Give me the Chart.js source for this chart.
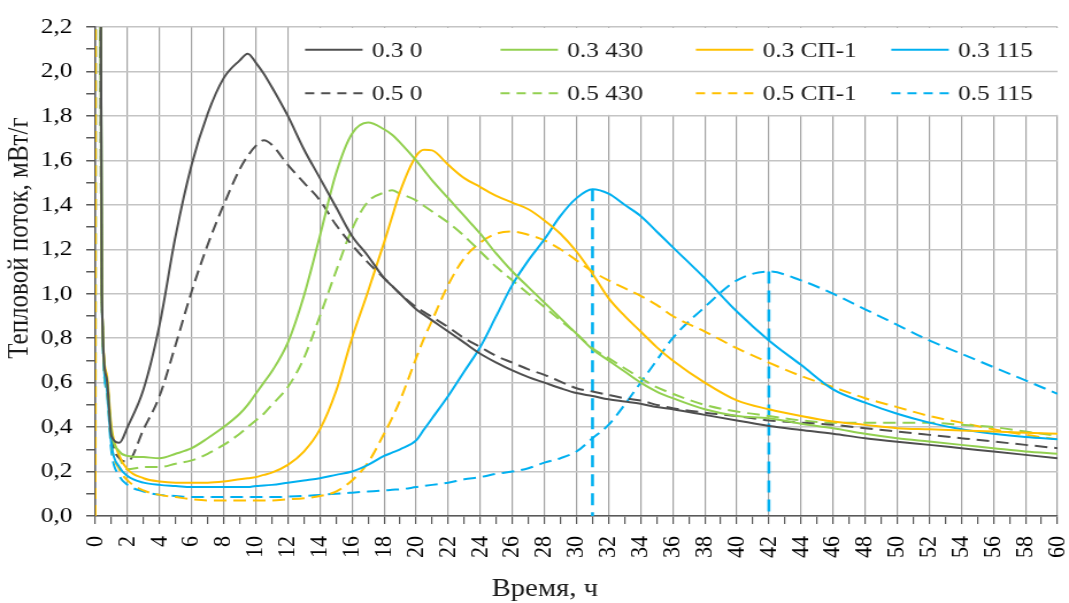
<!DOCTYPE html>
<html>
<head>
<meta charset="utf-8">
<script src="https://cdn.jsdelivr.net/npm/chart.js@4.4.1/dist/chart.umd.min.js"></script>
<style>
  html, body { margin: 0; padding: 0; background: #fff; overflow: hidden; }
</style>
</head>
<body>
<!-- the source picture is stretched sideways, so the canvas is drawn narrower and widened by css -->
<canvas id="heatFlow" width="930" height="603" style="display:block;width:1069px;height:603px"></canvas>
<script>
// time, h
const hours = [0, 0.1, 0.4, 0.7, 1, 1.5,
  2, 3, 4, 5, 6, 7, 8, 9, 9.5, 10, 10.5, 11, 12, 13, 14, 15, 16, 17, 18, 18.5, 19,
  20, 20.5, 21, 22, 23, 24, 25, 26, 27, 28, 29, 30, 31, 32, 33, 34, 35, 36,
  38, 40, 42, 44, 46, 48, 50, 52, 54, 56, 58, 60];

// heat flow, mW/g
const flow03_0 = [null, 8, 1.0, 0.62, 0.36, 0.33,
  0.40, 0.57, 0.86, 1.26, 1.58, 1.81, 1.97, 2.05, 2.08, 2.04, 1.99, 1.93, 1.80, 1.65, 1.52, 1.39, 1.26, 1.17, 1.07, 1.035, 1.00,
  0.93, 0.905, 0.88, 0.83, 0.78, 0.73, 0.69, 0.655, 0.625, 0.60, 0.575, 0.553, 0.54, 0.525, 0.515, 0.505, 0.49, 0.48,
  0.455, 0.43, 0.405, 0.387, 0.37, 0.35, 0.334, 0.32, 0.305, 0.29, 0.275, 0.26];
const flow03_430 = [null, 8, 1.0, 0.62, 0.38, 0.29,
  0.27, 0.265, 0.26, 0.28, 0.305, 0.35, 0.40, 0.46, 0.50, 0.55, 0.60, 0.65, 0.78, 0.99, 1.26, 1.54, 1.72, 1.77, 1.74, 1.715, 1.68,
  1.60, 1.555, 1.51, 1.43, 1.35, 1.27, 1.18, 1.10, 1.03, 0.96, 0.89, 0.82, 0.75, 0.70, 0.65, 0.60, 0.56, 0.53,
  0.48, 0.45, 0.44, 0.415, 0.395, 0.37, 0.35, 0.335, 0.32, 0.305, 0.29, 0.28];
const flow03_sp1 = [null, 8, 1.0, 0.64, 0.40, 0.27,
  0.21, 0.17, 0.155, 0.15, 0.15, 0.15, 0.155, 0.165, 0.17, 0.175, 0.185, 0.195, 0.23, 0.29, 0.39, 0.56, 0.80, 1.01, 1.23, 1.345, 1.46,
  1.62, 1.648, 1.645, 1.58, 1.52, 1.48, 1.44, 1.41, 1.38, 1.33, 1.27, 1.19, 1.09, 0.98, 0.90, 0.83, 0.76, 0.70,
  0.60, 0.52, 0.48, 0.45, 0.425, 0.41, 0.395, 0.39, 0.385, 0.38, 0.375, 0.37];
const flow03_115 = [null, 8, 1.0, 0.58, 0.32, 0.22,
  0.18, 0.15, 0.14, 0.135, 0.13, 0.13, 0.13, 0.13, 0.13, 0.135, 0.137, 0.14, 0.15, 0.16, 0.17, 0.185, 0.20, 0.23, 0.27, 0.285, 0.30,
  0.34, 0.39, 0.44, 0.54, 0.65, 0.76, 0.90, 1.04, 1.15, 1.245, 1.35, 1.43, 1.47, 1.45, 1.40, 1.35, 1.28, 1.21,
  1.07, 0.92, 0.79, 0.68, 0.57, 0.51, 0.46, 0.42, 0.39, 0.37, 0.355, 0.345];
const flow05_0 = [null, 8, 1.0, 0.62, 0.36, 0.26,
  0.245, 0.39, 0.54, 0.77, 1.01, 1.22, 1.40, 1.56, 1.62, 1.665, 1.69, 1.67, 1.58, 1.50, 1.42, 1.31, 1.22, 1.14, 1.07, 1.035, 1.00,
  0.94, 0.917, 0.895, 0.85, 0.80, 0.76, 0.72, 0.69, 0.66, 0.635, 0.605, 0.575, 0.56, 0.545, 0.53, 0.52, 0.50, 0.485,
  0.465, 0.45, 0.43, 0.42, 0.41, 0.395, 0.38, 0.365, 0.35, 0.335, 0.32, 0.305];
const flow05_430 = [null, 8, 1.0, 0.60, 0.36, 0.26,
  0.21, 0.22, 0.22, 0.235, 0.25, 0.28, 0.32, 0.37, 0.40, 0.43, 0.46, 0.50, 0.58, 0.71, 0.90, 1.10, 1.29, 1.415, 1.455, 1.465, 1.45,
  1.42, 1.395, 1.37, 1.32, 1.26, 1.19, 1.12, 1.06, 1.00, 0.94, 0.88, 0.82, 0.755, 0.71, 0.665, 0.62, 0.58, 0.55,
  0.50, 0.47, 0.45, 0.43, 0.42, 0.42, 0.42, 0.42, 0.41, 0.40, 0.38, 0.36];
const flow05_sp1 = [0, 8, 1.0, 0.58, 0.32, 0.21,
  0.16, 0.115, 0.095, 0.085, 0.075, 0.07, 0.07, 0.07, 0.07, 0.07, 0.07, 0.07, 0.075, 0.08, 0.09, 0.11, 0.16, 0.24, 0.37, 0.44, 0.52,
  0.71, 0.80, 0.88, 1.04, 1.16, 1.23, 1.27, 1.28, 1.265, 1.24, 1.20, 1.15, 1.10, 1.06, 1.025, 0.99, 0.95, 0.90,
  0.83, 0.755, 0.69, 0.63, 0.58, 0.53, 0.49, 0.45, 0.42, 0.39, 0.365, 0.345];
const flow05_115 = [0, 8, 1.0, 0.56, 0.29, 0.18,
  0.14, 0.11, 0.095, 0.09, 0.085, 0.085, 0.085, 0.085, 0.085, 0.085, 0.085, 0.085, 0.087, 0.09, 0.095, 0.10, 0.105, 0.11, 0.115, 0.118, 0.12,
  0.13, 0.135, 0.14, 0.15, 0.165, 0.175, 0.19, 0.20, 0.215, 0.24, 0.26, 0.29, 0.35, 0.41, 0.50, 0.60, 0.70, 0.80,
  0.94, 1.06, 1.10, 1.06, 1.00, 0.93, 0.86, 0.79, 0.73, 0.67, 0.61, 0.55];

const seriesLabels = ['0.3 0', '0.3 430', '0.3 СП-1', '0.3 115', '0.5 0', '0.5 430', '0.5 СП-1', '0.5 115'];
const seriesValues = [flow03_0, flow03_430, flow03_sp1, flow03_115, flow05_0, flow05_430, flow05_sp1, flow05_115];
const seriesColors = ['#4f4f4f', '#92d050', '#ffc000', '#00b0f0', '#4f4f4f', '#92d050', '#ffc000', '#00b0f0'];
// peaks of these series get a dashed drop line down to the time axis
const dropLineSeries = ['0.3 115', '0.5 115'];

const xAxisTitle = 'Время, ч';
const yAxisTitle = 'Тепловой поток, мВт/г';

const FONT = '"Liberation Serif", "Times New Roman", serif';
const H_GRID = '#c4c4c4';
const V_GRID = '#a3a3a3';
const AXIS = '#595959';

const isEven = (v) => Math.round(v * 10) % 2 === 0;

// main hydration peak, ignoring the mixing spike at the start
const mainPeak = (values) => {
  let best = -1;
  values.forEach((v, i) => {
    if (hours[i] <= 5) return;
    if (best < 0 || v > values[best]) best = i;
  });
  return { x: hours[best], y: values[best] };
};

const datasets = seriesLabels.map((label, i) => ({
  label,
  data: hours.map((h, k) => ({ x: h, y: seriesValues[i][k] })),
  borderColor: seriesColors[i],
  borderWidth: 2,
  borderDash: label.startsWith('0.5') ? [11, 6] : [],
  pointRadius: 0,
  cubicInterpolationMode: 'monotone',
  fill: false
}));

dropLineSeries.forEach((name) => {
  const i = seriesLabels.indexOf(name);
  const peak = mainPeak(seriesValues[i]);
  datasets.push({
    label: '',
    dropLine: true,
    data: [{ x: peak.x, y: peak.y }, { x: peak.x, y: 0 }],
    borderColor: seriesColors[i],
    borderWidth: 2.6,
    borderDash: [12, 7],
    pointRadius: 0
  });
});

// legend sits inside the plot, top right, on a white patch
const boxLegend = {
  id: 'boxLegend',
  beforeDatasetsDraw(chart) {
    const { ctx, chartArea, scales } = chart;
    const x0 = scales.x.getPixelForValue(12) + 1;
    const yTop = chartArea.top + 1;
    const yMid = scales.y.getPixelForValue(2.0);
    const yBot = scales.y.getPixelForValue(1.8) - 1;
    ctx.save();
    ctx.fillStyle = '#fff';
    ctx.fillRect(x0, yTop, chartArea.right + 2 - x0, yBot - yTop);
    ctx.strokeStyle = H_GRID;
    ctx.lineWidth = 1.5;
    ctx.beginPath();
    ctx.moveTo(x0, yMid);
    ctx.lineTo(chartArea.right, yMid);
    ctx.stroke();

    const items = chart.data.datasets.filter(d => !d.dropLine);
    items.forEach((ds, i) => {
      const col = i % 4;
      const row = Math.floor(i / 4);
      const lx = x0 + 14 + col * 170;
      const ly = row === 0 ? (yTop + yMid) / 2 : (yMid + yBot) / 2;
      ctx.setLineDash(ds.borderDash.length ? [8, 6] : []);
      ctx.strokeStyle = ds.borderColor;
      ctx.lineWidth = 2;
      ctx.beginPath();
      ctx.moveTo(lx, ly);
      ctx.lineTo(lx + 50, ly);
      ctx.stroke();
      ctx.setLineDash([]);
      ctx.fillStyle = '#1a1a1a';
      ctx.font = '22px ' + FONT;
      ctx.textBaseline = 'middle';
      ctx.textAlign = 'left';
      ctx.fillText(ds.label, lx + 58, ly + 1);
    });
    ctx.restore();
  },
  afterDraw(chart) {
    const { ctx } = chart;
    ctx.save();
    ctx.fillStyle = '#1a1a1a';
    ctx.font = '25px ' + FONT;
    ctx.textAlign = 'center';
    ctx.textBaseline = 'middle';
    ctx.fillText(xAxisTitle, 474, 589);
    ctx.translate(17, 238);
    ctx.rotate(-Math.PI / 2);
    ctx.fillText(yAxisTitle, 0, 0);
    ctx.restore();
  }
};

new Chart(document.getElementById('heatFlow'), {
  type: 'line',
  data: { datasets },
  options: {
    responsive: false,
    animation: false,
    devicePixelRatio: 1,
    layout: { padding: { top: 27, right: 10, left: 0, bottom: 0 } },
    plugins: { legend: { display: false }, tooltip: { enabled: false } },
    scales: {
      x: {
        type: 'linear',
        min: 0,
        max: 60,
        ticks: {
          stepSize: 1,
          autoSkip: false,
          minRotation: 90,
          maxRotation: 90,
          padding: 12,
          color: '#000',
          font: { family: FONT, size: 22 },
          callback: (v) => (v % 2 === 0 ? String(v) : '')
        },
        grid: {
          color: (c) => (c.tick && c.tick.value % 2 === 0 ? V_GRID : 'rgba(0,0,0,0)'),
          lineWidth: 1.2,
          tickColor: AXIS,
          tickLength: 8
        },
        border: { color: AXIS, width: 1.5 },
        afterFit: (s) => { s.height = 87; s.paddingLeft = 0; s.paddingRight = 0; }
      },
      y: {
        min: 0,
        max: 2.2,
        ticks: {
          stepSize: 0.1,
          autoSkip: false,
          padding: 12,
          color: '#000',
          font: { family: FONT, size: 22 },
          callback: (v) => (isEven(v) ? v.toFixed(1).replace('.', ',') : '')
        },
        grid: {
          color: (c) => (c.tick && isEven(c.tick.value) ? H_GRID : 'rgba(0,0,0,0)'),
          lineWidth: 1.5,
          tickColor: AXIS,
          tickLength: 8
        },
        border: { color: AXIS, width: 1.5 },
        afterFit: (s) => { s.width = 83; }
      }
    }
  },
  plugins: [boxLegend]
});
</script>
</body>
</html>
